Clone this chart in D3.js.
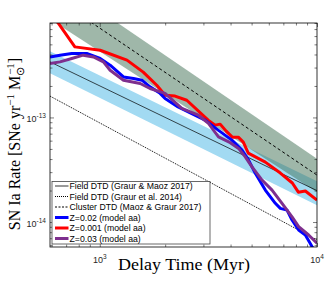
<!DOCTYPE html>
<html>
<head>
<meta charset="utf-8">
<script src="https://cdn.jsdelivr.net/npm/d3@7"></script>
<style>
body { margin: 0; background: #fff; }
.tick-label { font-family: "Liberation Sans", Arial, sans-serif; font-size: 9px; fill: #262626; }
.axis-title { font-family: "Liberation Serif", "Times New Roman", serif; fill: #000; }
.legend text { font-family: "Liberation Sans", Arial, sans-serif; font-size: 8.7px; fill: #000; }
</style>
</head>
<body>
<div id="chart"></div>
<script>
// delay time (Myr) vs SN Ia rate (SNe yr^-1 Msun^-1)

// Z=0.02 (model aa)
var blueT = [590, 656, 743, 871, 1004, 1116, 1286, 1430, 1563, 1704, 1895, 1998, 2293, 2652, 3056, 3508, 4059, 4515, 4843, 5200, 5782, 6430, 6780, 7279, 7675, 8230, 8838, 9495, 10000];
var blueR = [3.79e-13, 3.94e-13, 4.09e-13, 4.09e-13, 3.66e-13, 3.16e-13, 2.44e-13, 2.36e-13, 2.27e-13, 1.96e-13, 1.70e-13, 1.52e-13, 1.26e-13, 1.09e-13, 9.42e-14, 7.56e-14, 6.07e-14, 4.87e-14, 3.91e-14, 2.92e-14, 2.02e-14, 1.51e-14, 1.35e-14, 1.30e-14, 1.045e-14, 8.39e-15, 7.51e-15, 5.81e-15, 4.84e-15];

// Z=0.001 (model aa)
var redT = [603, 768, 1004, 1334, 1585, 1830, 1998, 2221, 2515, 3155, 3398, 3583, 3820, 4072, 4341, 4578, 4827, 5782, 6780, 7700, 8206, 8838, 10000];
var redR = [9.7e-13, 4.73e-13, 4.39e-13, 3.53e-13, 2.71e-13, 2.03e-13, 1.63e-13, 1.60e-13, 1.46e-13, 9.42e-14, 8.44e-14, 8.63e-14, 7.40e-14, 6.48e-14, 6.48e-14, 5.81e-14, 4.56e-14, 3.74e-14, 2.94e-14, 2.36e-14, 1.93e-14, 1.98e-14, 1.62e-14];

// Z=0.03 (model aa)
var purpleT = [590, 656, 743, 839, 935, 1039, 1116, 1286, 1535, 1704, 1998, 2385, 2845, 3165, 3520, 3942, 4354, 4676, 5021, 5584, 6209, 6903, 7675, 8230, 9153, 10000];
var purpleR = [3.28e-13, 3.40e-13, 3.66e-13, 3.94e-13, 3.79e-13, 3.40e-13, 2.83e-13, 2.27e-13, 2.11e-13, 1.89e-13, 1.70e-13, 1.22e-13, 1.05e-13, 8.76e-14, 6.53e-14, 5.81e-14, 5.06e-14, 4.20e-14, 3.37e-14, 2.52e-14, 2.02e-14, 1.51e-14, 1.12e-14, 9.02e-15, 7.51e-15, 6.26e-15];

// power-law DTDs (end points) and their uncertainty bands
var dtdT = [590, 10000];
var fieldGMR = [3.40e-13, 1.995e-14];
var fieldGMLo = [2.65e-13, 1.45e-14];
var fieldGMHi = [4.30e-13, 2.46e-14];
var fieldG14R = [1.60e-13, 6.73e-15];
var clusterR = [1.50e-12, 2.81e-14];
var clusterLo = [8.69e-13, 1.93e-14];
var clusterHi = [2.21e-12, 4.03e-14];

var xMajor = [1000, 10000];
var xMinor = [600, 700, 800, 900, 2000, 3000, 4000, 5000, 6000, 7000, 8000, 9000];
var yMajor = [1e-14, 1e-13];
var yMinor = [6e-15, 7e-15, 8e-15, 9e-15, 2e-14, 3e-14, 4e-14, 5e-14, 6e-14, 7e-14, 8e-14, 9e-14, 2e-13, 3e-13, 4e-13, 5e-13, 6e-13, 7e-13, 8e-13];

var legendLabels = ["Field DTD (Graur & Maoz 2017)", "Field DTD (Graur et al. 2014)", "Cluster DTD (Maoz & Graur 2017)",
    "Z=0.02 (model aa)", "Z=0.001 (model aa)", "Z=0.03 (model aa)"];

var W = 330, H = 285;
var box = { left: 50, top: 23, right: 317, bottom: 247 };

var svg = d3.select("#chart").append("svg")
    .attr("width", W)
    .attr("height", H);

var x = d3.scaleLog().domain([590, 10000]).range([box.left, box.right]);
var y = d3.scaleLog().domain([5.77e-15, 8.0e-13]).range([box.bottom, box.top]);

svg.append("clipPath").attr("id", "plotclip")
    .append("rect")
    .attr("x", box.left).attr("y", box.top)
    .attr("width", box.right - box.left).attr("height", box.bottom - box.top);

var plot = svg.append("g").attr("clip-path", "url(#plotclip)");

function pts(ts, rs) {
    return ts.map(function(t, i) { return [t, rs[i]]; });
}

var line = d3.line()
    .x(function(d) { return x(d[0]); })
    .y(function(d) { return y(d[1]); });

var area = d3.area()
    .x(function(d) { return x(d[0]); })
    .y0(function(d) { return y(d[1]); })
    .y1(function(d) { return y(d[2]); });

function band(ts, lo, hi) {
    return ts.map(function(t, i) { return [t, lo[i], hi[i]]; });
}

// bands
plot.append("path")
    .datum(band(dtdT, fieldGMLo, fieldGMHi))
    .attr("d", area)
    .attr("fill", "#a2daf2");

plot.append("path")
    .datum(band(dtdT, clusterLo, clusterHi))
    .attr("d", area)
    .attr("fill", "#3f7054")
    .attr("fill-opacity", 0.5);

// power-law lines
plot.append("path")
    .datum(pts(dtdT, fieldGMR))
    .attr("d", line)
    .attr("fill", "none").attr("stroke", "#000").attr("stroke-width", 0.7);

plot.append("path")
    .datum(pts(dtdT, fieldG14R))
    .attr("d", line)
    .attr("fill", "none").attr("stroke", "#000").attr("stroke-width", 1)
    .attr("stroke-dasharray", "1,1");

plot.append("path")
    .datum(pts(dtdT, clusterR))
    .attr("d", line)
    .attr("fill", "none").attr("stroke", "#000").attr("stroke-width", 1)
    .attr("stroke-dasharray", "3,2.5");

// model curves
var series = [
    { t: redT, r: redR, color: "#ff0000" },
    { t: blueT, r: blueR, color: "#0000ff" },
    { t: purpleT, r: purpleR, color: "#7e2f8e" }
];
series.forEach(function(s) {
    plot.append("path")
        .datum(pts(s.t, s.r))
        .attr("d", line)
        .attr("fill", "none")
        .attr("stroke", s.color)
        .attr("stroke-width", 3)
        .attr("stroke-linejoin", "round");
});

// ticks (inward, all four sides)
function ticks(axisFn, scale, vals, len, tr) {
    svg.append("g")
        .attr("transform", tr)
        .call(axisFn(scale).tickValues(vals).tickSize(len).tickFormat(""))
        .call(function(g) { g.select(".domain").remove(); })
        .selectAll("line").attr("stroke", "#262626").attr("stroke-width", 0.6);
}
ticks(d3.axisBottom, x, xMajor, -4, "translate(0," + box.bottom + ")");
ticks(d3.axisBottom, x, xMinor, -2.5, "translate(0," + box.bottom + ")");
ticks(d3.axisTop, x, xMajor, -4, "translate(0," + box.top + ")");
ticks(d3.axisTop, x, xMinor, -2.5, "translate(0," + box.top + ")");
ticks(d3.axisLeft, y, yMajor, -4, "translate(" + box.left + ",0)");
ticks(d3.axisLeft, y, yMinor, -2.5, "translate(" + box.left + ",0)");
ticks(d3.axisRight, y, yMajor, -4, "translate(" + box.right + ",0)");
ticks(d3.axisRight, y, yMinor, -2.5, "translate(" + box.right + ",0)");

// frame
svg.append("rect")
    .attr("x", box.left).attr("y", box.top)
    .attr("width", box.right - box.left).attr("height", box.bottom - box.top)
    .attr("fill", "none").attr("stroke", "#000").attr("stroke-width", 0.8);

// tick labels
xMajor.forEach(function(v) {
    var t = svg.append("text").attr("class", "tick-label")
        .attr("x", x(v)).attr("y", 263).attr("text-anchor", "middle");
    t.append("tspan").text("10");
    t.append("tspan").attr("dy", -4).attr("font-size", "6.5px").text(Math.round(Math.log10(v)));
});
yMajor.forEach(function(v) {
    var t = svg.append("text").attr("class", "tick-label")
        .attr("x", 46).attr("y", y(v) + 5).attr("text-anchor", "end");
    t.append("tspan").text("10");
    t.append("tspan").attr("dy", -4).attr("font-size", "6.5px").text(Math.round(Math.log10(v)));
});

// axis titles
svg.append("text").attr("class", "axis-title")
    .attr("x", 184).attr("y", 270)
    .attr("text-anchor", "middle")
    .attr("font-size", "16px")
    .attr("textLength", 132).attr("lengthAdjust", "spacingAndGlyphs")
    .text("Delay Time (Myr)");

var yt = svg.append("text").attr("class", "axis-title")
    .attr("transform", "translate(20,144) rotate(-90)")
    .attr("text-anchor", "middle")
    .attr("font-size", "16px");
yt.append("tspan").text("SN Ia Rate [SNe yr");
yt.append("tspan").attr("dy", -6).attr("font-size", "11px").text("\u22121");
yt.append("tspan").attr("dy", 6).text(" M");
yt.append("tspan").attr("dy", 4).attr("font-size", "11px").text("\u2299");
yt.append("tspan").attr("dx", -8).attr("dy", -10).attr("font-size", "11px").text("\u22121");
yt.append("tspan").attr("dy", 6).text("]");

// legend
var legend = svg.append("g").attr("class", "legend");
legend.append("rect")
    .attr("x", 52).attr("y", 181.5)
    .attr("width", 158).attr("height", 62.5)
    .attr("fill", "#fff").attr("stroke", "#444").attr("stroke-width", 0.8);

var legendStyles = [
    { color: "#000", width: 0.8, dash: null },
    { color: "#000", width: 1, dash: "1,1" },
    { color: "#000", width: 1, dash: "2,1.5" },
    { color: "#0000ff", width: 3, dash: null },
    { color: "#ff0000", width: 3, dash: null },
    { color: "#7e2f8e", width: 3, dash: null }
];
legendLabels.forEach(function(lab, i) {
    var ly = 186 + i * 10.5;
    legend.append("line")
        .attr("x1", 55).attr("x2", 68.5).attr("y1", ly).attr("y2", ly)
        .attr("stroke", legendStyles[i].color)
        .attr("stroke-width", legendStyles[i].width)
        .attr("stroke-dasharray", legendStyles[i].dash);
    legend.append("text")
        .attr("x", 69.5).attr("y", ly + 3.1)
        .text(lab);
});
</script>
</body>
</html>
